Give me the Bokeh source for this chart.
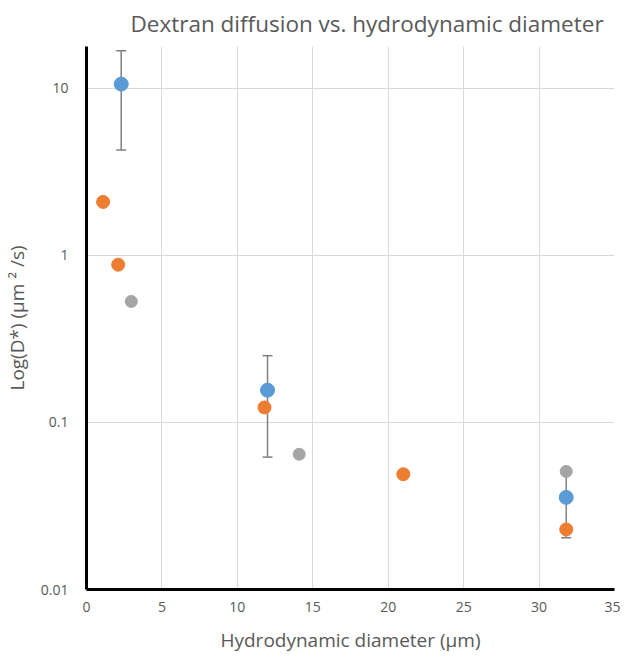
from bokeh.plotting import figure
from bokeh.models import ColumnDataSource, Whisker, TeeHead, FixedTicker
from bokeh.embed import file_html
from bokeh.resources import INLINE

# Data
blue_x = [2.3, 12.0, 31.8]
blue_y = [10.6, 0.156, 0.0356]
blue_upper = [16.8, 0.251, 0.050]
blue_lower = [4.27, 0.062, 0.0204]

orange_x = [1.1, 2.1, 11.8, 21.0, 31.8]
orange_y = [2.09, 0.88, 0.123, 0.049, 0.0229]

gray_x = [2.97, 14.1, 31.8]
gray_y = [0.53, 0.0645, 0.0509]

x_ticks = [0, 5, 10, 15, 20, 25, 30, 35]
y_ticks = [0.01, 0.1, 1, 10]
y_tick_labels = ["0.01", "0.1", "1", "10"]

FONT = "Open Sans"
TXT = "#595959"

p = figure(width=620, height=655, y_axis_type="log",
           x_range=(0, 35), y_range=(0.01, 17.8),
           output_backend="svg", toolbar_location=None,
           min_border_left=86, min_border_right=6,
           min_border_top=46, min_border_bottom=61,
           title="Dextran diffusion vs. hydrodynamic diameter")

p.outline_line_color = None
p.title.text_font = FONT
p.title.text_font_size = "22.5px"
p.title.text_font_style = "normal"
p.title.text_color = TXT
p.title.align = "left"
p.title.vertical_align = "top"
p.title.offset = 44
p.title.standoff = 12

p.xaxis.ticker = FixedTicker(ticks=x_ticks)
p.yaxis.ticker = FixedTicker(ticks=y_ticks)
p.yaxis.major_label_overrides = {t: l for t, l in zip(y_ticks, y_tick_labels)}
p.xgrid.ticker = FixedTicker(ticks=x_ticks)
p.ygrid.ticker = FixedTicker(ticks=y_ticks)

for ax in (p.xaxis, p.yaxis):
    ax.axis_line_color = "black"
    ax.axis_line_width = 3
    ax.major_tick_line_color = None
    ax.minor_tick_line_color = None
    ax.major_label_text_font = FONT
    ax.major_label_text_font_size = "14px"
    ax.major_label_text_color = TXT
    ax.axis_label_text_font = FONT
    ax.axis_label_text_font_size = "19px"
    ax.axis_label_text_font_style = "normal"
    ax.axis_label_text_color = TXT

p.xaxis.axis_label = "Hydrodynamic diameter (μm)"
p.yaxis.axis_label = "Log(D*) (μm ² /s)"
p.xaxis.major_label_standoff = 6
p.yaxis.major_label_standoff = 12
p.xaxis.axis_label_standoff = 12
p.yaxis.axis_label_standoff = 8

p.xgrid.grid_line_color = "#d9d9d9"
p.ygrid.grid_line_color = "#d9d9d9"

src_b = ColumnDataSource(dict(x=blue_x, y=blue_y, up=blue_upper, lo=blue_lower))
w = Whisker(source=src_b, base="x", upper="up", lower="lo",
            line_color="#808080", line_width=1.5,
            upper_head=TeeHead(size=10, line_color="#808080", line_width=1.5),
            lower_head=TeeHead(size=10, line_color="#808080", line_width=1.5))
p.add_layout(w)

p.scatter(blue_x, blue_y, size=14, color="#5B9BD5")
p.scatter(orange_x, orange_y, size=13, color="#ED7D31")
p.scatter(gray_x, gray_y, size=12, color="#A5A5A5")

open("out.html", "w").write(file_html(p, INLINE))
